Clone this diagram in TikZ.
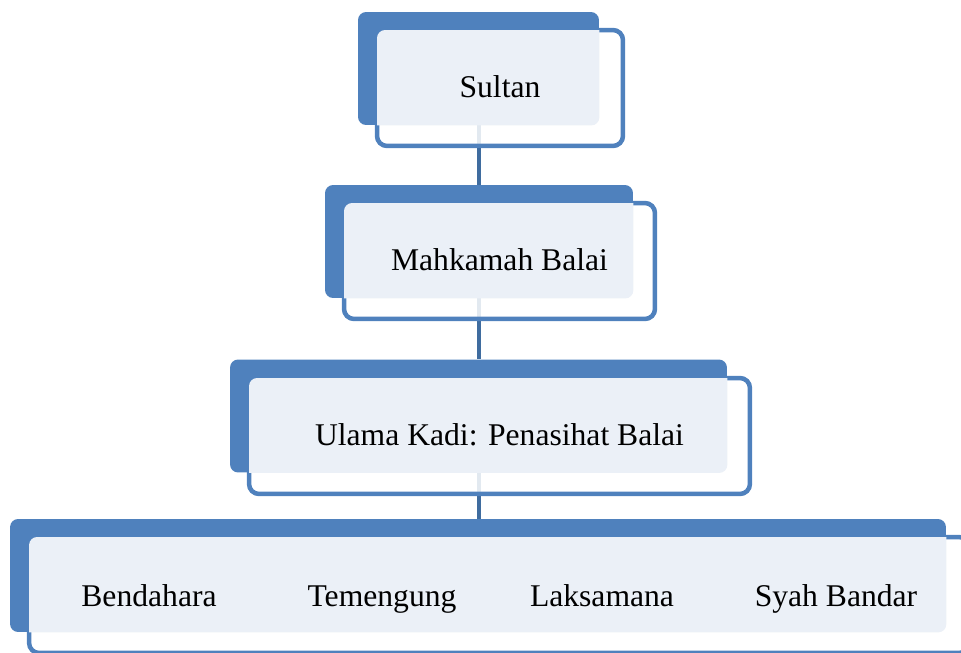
\documentclass[tikz,border=0pt]{standalone}
\usepackage{fontspec}
\setmainfont{Liberation Serif}
\usepackage{xcolor}
\definecolor{sablue}{HTML}{4F81BD}
\definecolor{salight}{HTML}{EBF0F7}
\definecolor{salink}{HTML}{3F6C9F}
\pgfdeclarelayer{background}
\pgfsetlayers{background,main}

\begin{document}
\begin{tikzpicture}[x=0.02cm,y=-0.02cm,
    backpanel/.style={fill=sablue,rounded corners=0.16cm,inner sep=0,minimum height=2.26cm},
    frontpanel/.style={draw=sablue,line width=0.09cm,fill=white,fill opacity=0.85,rounded corners=0.2cm,inner sep=0,minimum height=2.32cm},
    lightpanel/.style={fill=salight,rounded corners=0.16cm},
    rank/.style={inner sep=0,anchor=base,font=\fontsize{18}{22}\selectfont},
    connector/.style={draw=salink,line width=0.08cm}]
        \useasboundingbox (0,0) rectangle (961,653);
        % Sultan
        \node[backpanel,minimum width=4.82cm] (sultanback) at (478.5,68.5) {};
        \node[frontpanel,minimum width=4.92cm] (sultan) at (500,88) {};
        \begin{scope}
            \clip[rounded corners=0.16cm] (sultanback.south west) rectangle (sultanback.north east);
            \fill[lightpanel] ([shift={(0.045cm,-0.045cm)}]sultan.north west) rectangle ([shift={(-0.045cm,0.045cm)}]sultan.south east);
        \end{scope}
        \node[rank] (sultantext) at (500,97) {Sultan};
        % Mahkamah Balai
        \node[backpanel,minimum width=6.16cm] (balaiback) at (479,241.5) {};
        \node[frontpanel,minimum width=6.22cm] (balai) at (499.5,261) {};
        \begin{scope}
            \clip[rounded corners=0.16cm] (balaiback.south west) rectangle (balaiback.north east);
            \fill[lightpanel] ([shift={(0.045cm,-0.045cm)}]balai.north west) rectangle ([shift={(-0.045cm,0.045cm)}]balai.south east);
        \end{scope}
        \node[rank] (balaitext) at (499.5,270) {Mahkamah Balai};
        % Ulama Kadi
        \node[backpanel,minimum width=9.94cm] (kadiback) at (478.5,416) {};
        \node[frontpanel,minimum width=10.02cm] (kadi) at (499.5,436) {};
        \begin{scope}
            \clip[rounded corners=0.16cm] (kadiback.south west) rectangle (kadiback.north east);
            \fill[lightpanel] ([shift={(0.045cm,-0.045cm)}]kadi.north west) rectangle ([shift={(-0.045cm,0.045cm)}]kadi.south east);
        \end{scope}
        \node[rank] (kaditext) at (499.5,445) {Ulama Kadi: Penasihat Balai};
        % pembesar
        \node[backpanel,minimum width=18.72cm] (pembesarback) at (478,575.5) {};
        \node[frontpanel,minimum width=18.8cm] (pembesar) at (499,595) {};
        \begin{scope}
            \clip[rounded corners=0.16cm] (pembesarback.south west) rectangle (pembesarback.north east);
            \fill[lightpanel] ([shift={(0.045cm,-0.045cm)}]pembesar.north west) rectangle ([shift={(-0.045cm,0.045cm)}]pembesar.south east);
        \end{scope}
        \node[rank] (bendahara) at (149,606) {Bendahara};
        \node[rank] (temenggung) at (382,606) {Temengung};
        \node[rank] (laksamana) at (602,606) {Laksamana};
        \node[rank] (syahbandar) at (836,606) {Syah Bandar};
        \begin{pgfonlayer}{background}
            \draw[connector] (sultanback.south) -- (sultanback.south |- balaiback.north);
            \draw[connector] (balaiback.south) -- (balaiback.south |- kadiback.north);
            \draw[connector] (kadiback.south) -- (kadiback.south |- pembesarback.north);
        \end{pgfonlayer}
    \end{tikzpicture}
\end{document}
